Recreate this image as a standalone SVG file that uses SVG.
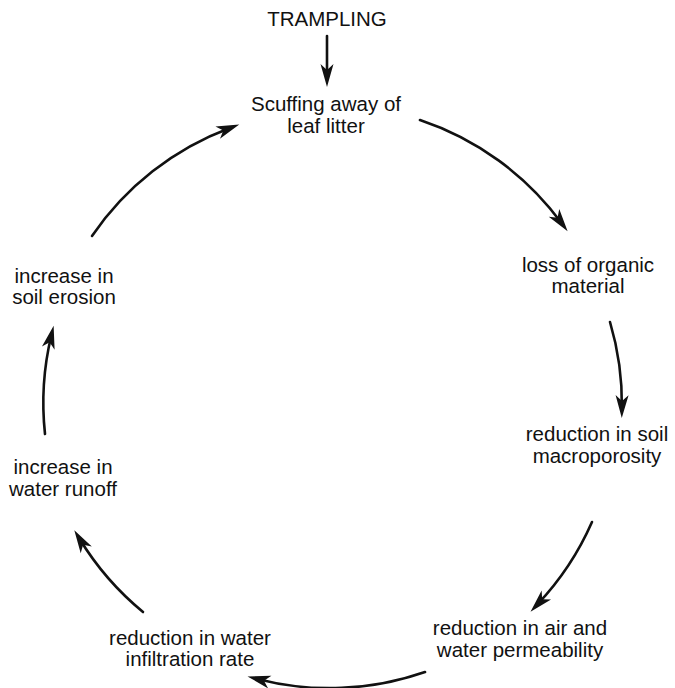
<svg xmlns="http://www.w3.org/2000/svg" width="675" height="688" viewBox="0 0 675 688">
<style>
.t{font-family:"Liberation Sans",Arial,Helvetica,sans-serif;font-size:20.5px;fill:#111;text-anchor:middle}
.c{fill:none;stroke:#111;stroke-width:2.6;stroke-linecap:round}
</style>
<defs>
<marker id="ah" markerUnits="userSpaceOnUse" markerWidth="26" markerHeight="16" viewBox="-14 -8 26 16" refX="0" refY="0" orient="auto">
<path d="M10,0 L-13,-6.5 L-7,0 L-13,6.5 Z" fill="#111"/>
</marker>
</defs>
<rect width="675" height="688" fill="#fff"/>
<g id="trampling"><text class="t" x="327" y="26">TRAMPLING</text></g>
<g id="scuffing"><text class="t" x="326" y="111">Scuffing away of</text><text class="t" x="326" y="133">leaf litter</text></g>
<g id="loss"><text class="t" x="588" y="272">loss of organic</text><text class="t" x="588" y="293">material</text></g>
<g id="macro"><text class="t" x="597" y="441">reduction in soil</text><text class="t" x="597" y="463">macroporosity</text></g>
<g id="perm"><text class="t" x="520" y="635">reduction in air and</text><text class="t" x="520" y="657">water permeability</text></g>
<g id="infil"><text class="t" x="190" y="645">reduction in water</text><text class="t" x="190" y="666">infiltration rate</text></g>
<g id="runoff"><text class="t" x="63" y="474">increase in</text><text class="t" x="63" y="496">water runoff</text></g>
<g id="erosion"><text class="t" x="64" y="283">increase in</text><text class="t" x="64" y="304">soil erosion</text></g>
<g id="connectors" marker-end="url(#ah)">
<path class="c" d="M327,36 L327,77" stroke-width="3"/>
<path class="c" d="M420,120 A289,289 0 0 1 561.7,223.3"/>
<path class="c" d="M610,322 A289,289 0 0 1 621.9,408.1"/>
<path class="c" d="M592,522 A289,289 0 0 1 537.4,604.4"/>
<path class="c" d="M425,672 A289,289 0 0 1 257.2,678.9"/>
<path class="c" d="M143,612 A289,289 0 0 1 79.5,538.8"/>
<path class="c" d="M45,434 A289,289 0 0 1 51.3,335.5"/>
<path class="c" d="M92,236 A289,289 0 0 1 229.9,128"/>
</g>
</svg>
